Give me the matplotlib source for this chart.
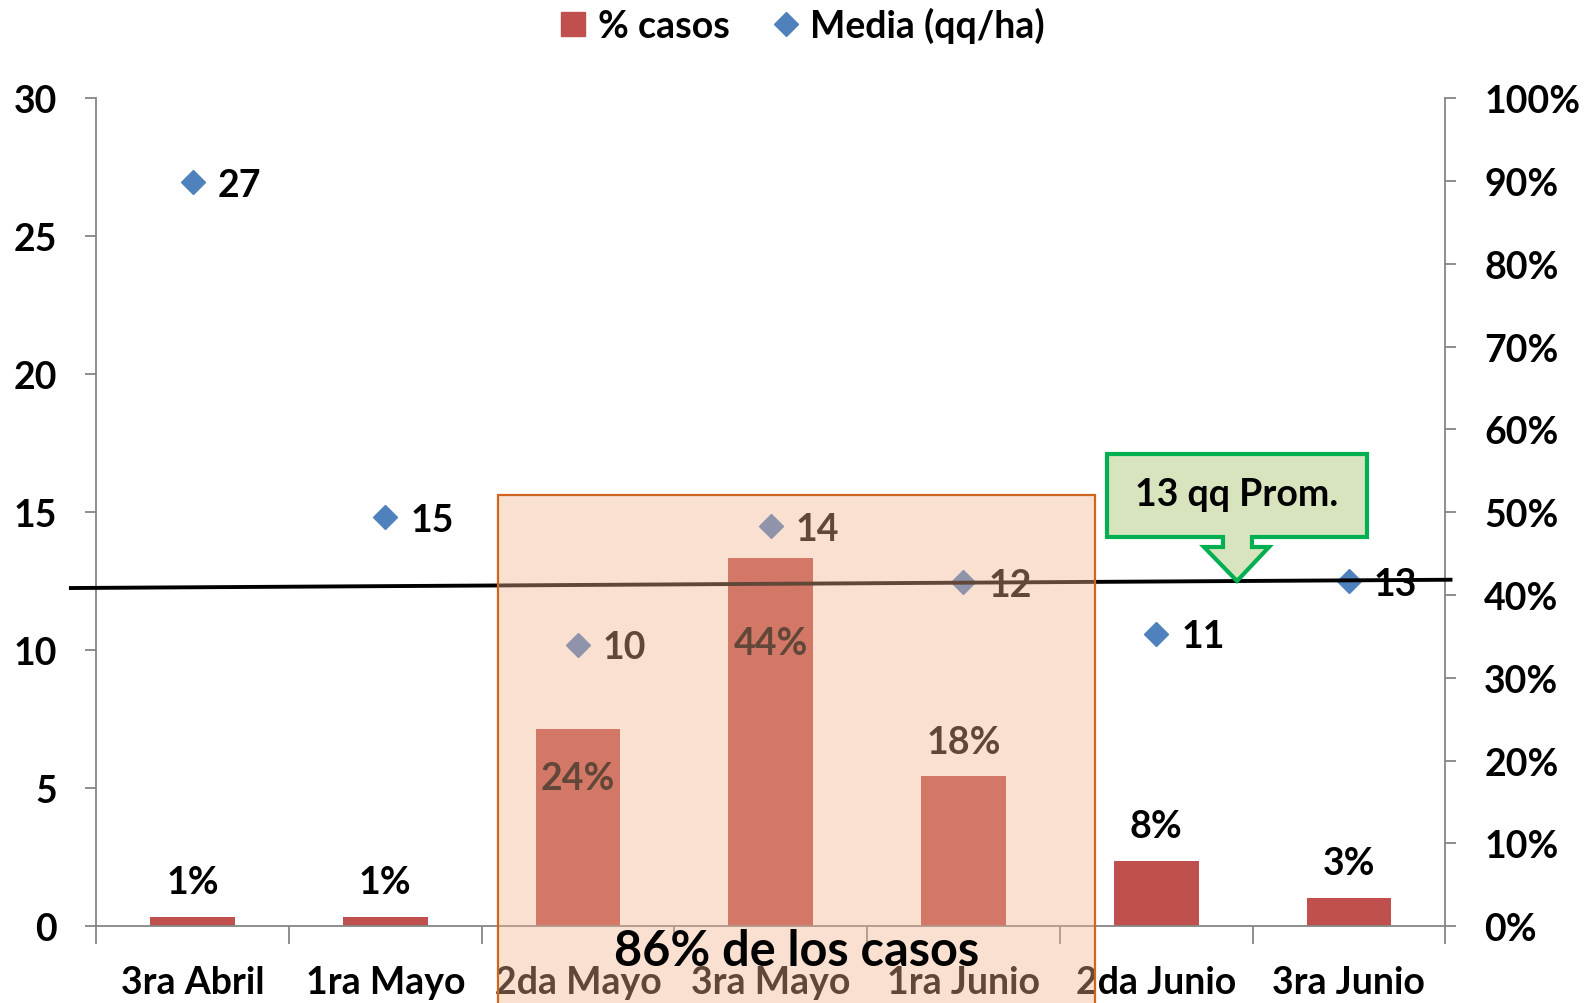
import matplotlib
matplotlib.use("Agg")
import matplotlib.pyplot as plt
from matplotlib.patches import Rectangle, Polygon
from matplotlib.lines import Line2D
from matplotlib.ticker import FuncFormatter

plt.rcParams['font.family'] = ['Lato', 'DejaVu Sans']
plt.rcParams['font.weight'] = 'bold'

categories = ["3ra Abril", "1ra Mayo", "2da Mayo", "3ra Mayo", "1ra Junio", "2da Junio", "3ra Junio"]
pct_casos = [0.011, 0.011, 0.238, 0.444, 0.181, 0.079, 0.034]
pct_labels = ["1%", "1%", "24%", "44%", "18%", "8%", "3%"]
media = [26.96, 14.82, 10.2, 14.49, 12.47, 10.6, 12.5]
media_labels = ["27", "15", "10", "14", "12", "11", "13"]
prom_line = [12.25, 12.55]          # reference line (start, end) in qq/ha
highlight_range = [1.585, 4.683]    # categories covered by highlight box
highlight_top = 15.62
highlight_text = "86% de los casos"
callout_text = "13 qq Prom."

RED = "#C0504D"
BLUE = "#4F81BD"
GRAY = "#868686"
FS = 27

fig = plt.figure(figsize=(15.87, 10.04), dpi=100)
ax = fig.add_axes([95/1568, 1-916/992, (1428-95)/1568, (916-98)/992])
ax2 = ax.twinx()
ax.set_zorder(ax2.get_zorder() + 1)
ax.patch.set_visible(False)

x = list(range(len(categories)))

# bars on right axis
ax2.bar(x, pct_casos, width=0.44, color=RED, zorder=2)
ax2.set_ylim(0, 1)
ax2.set_yticks([i/10 for i in range(11)])
ax2.yaxis.set_major_formatter(FuncFormatter(lambda v, p: f"{v*100:.0f}%"))

# bar labels: offset in points (positive above top)
bar_offsets = [25, 25, -35, -61, 25, 25, 25]
for xi, v, lab, off in zip(x, pct_casos, pct_labels, bar_offsets):
    ax2.annotate(lab, (xi, v), xytext=(0, off), textcoords="offset points",
                 ha="center", va="center", fontsize=FS, fontweight="bold", color="black")

# diamonds on left axis
ax.plot(x, media, linestyle="none", marker="D", markersize=12, color=BLUE, zorder=3)
for xi, v, lab in zip(x, media, media_labels):
    ax.annotate(lab, (xi, v), xytext=(18, -2), textcoords="offset points",
                ha="left", va="center", fontsize=FS, fontweight="bold", color="black")

# horizontal reference line
ax.plot([-0.631, 6.527], prom_line, color="black", lw=2.8, clip_on=False, zorder=4)

ax.set_xlim(-0.5, 6.5)
ax.set_ylim(0, 30)
ax.set_yticks(range(0, 31, 5))
ax.set_xticks([i + 0.5 for i in range(-1, 7)], minor=False)
ax.set_xticklabels([])
ax.set_xticks(x, minor=True)
ax.set_xticklabels(categories, minor=True)
ax.tick_params(axis="x", which="major", length=13, width=1.3, color=GRAY, direction="out")
ax.tick_params(axis="x", which="minor", length=0, pad=28, labelsize=FS)
ax.tick_params(axis="y", length=8, width=1.3, color=GRAY, labelsize=FS, pad=20)
ax2.tick_params(axis="y", length=8, width=1.3, color=GRAY, labelsize=FS, pad=20)
for lab in ax.get_yticklabels() + ax2.get_yticklabels() + ax.get_xticklabels(minor=True):
    lab.set_fontweight("bold")

for a in (ax, ax2):
    for s in a.spines.values():
        s.set_color(GRAY)
        s.set_linewidth(1.3)
    a.spines["top"].set_visible(False)
ax.spines["right"].set_visible(False)
ax2.spines["left"].set_visible(False)
ax2.spines["bottom"].set_visible(False)

# highlight overlay (figure-level artist so it sits above all axes content)
rect = Rectangle((highlight_range[0], -20), highlight_range[1] - highlight_range[0],
                 highlight_top + 20, transform=ax.transData,
                 facecolor=(242/255, 179/255, 142/255, 0.4),
                 edgecolor="#D0661E", linewidth=1.6, zorder=5)
fig.add_artist(rect)
fig.text((highlight_range[0] + highlight_range[1]) / 2, -0.88, highlight_text,
         transform=ax.transData, ha="center", va="center",
         fontsize=35, fontweight="bold", color="black", zorder=6)

# callout
W, H = 1587, 1004
pts = [(1107, 455), (1367, 455), (1367, 538), (1252, 538), (1252, 548), (1269, 548),
       (1237, 582), (1204, 548), (1223, 548), (1223, 538), (1107, 538)]
poly = Polygon([(px / W, 1 - py / H) for px, py in pts], closed=True,
               transform=fig.transFigure, facecolor="#D7E4BD", edgecolor="#00B050",
               linewidth=3, joinstyle="miter", zorder=7)
fig.add_artist(poly)
fig.text(1237 / W, 1 - 495 / H, callout_text, ha="center", va="center",
         fontsize=FS, fontweight="bold", color="black", zorder=8)

# legend
handles = [Line2D([], [], linestyle="none", marker="s", markersize=17, color=RED),
           Line2D([], [], linestyle="none", marker="D", markersize=12, color=BLUE)]
fig.legend(handles, ["% casos", "Media (qq/ha)"], loc="center",
           bbox_to_anchor=(790/1568, 1 - 26/992), ncol=2, frameon=False,
           handletextpad=0.15, columnspacing=1.0, handlelength=1.0,
           prop={"weight": "bold", "size": FS})

fig.savefig("out.png", dpi=100)
